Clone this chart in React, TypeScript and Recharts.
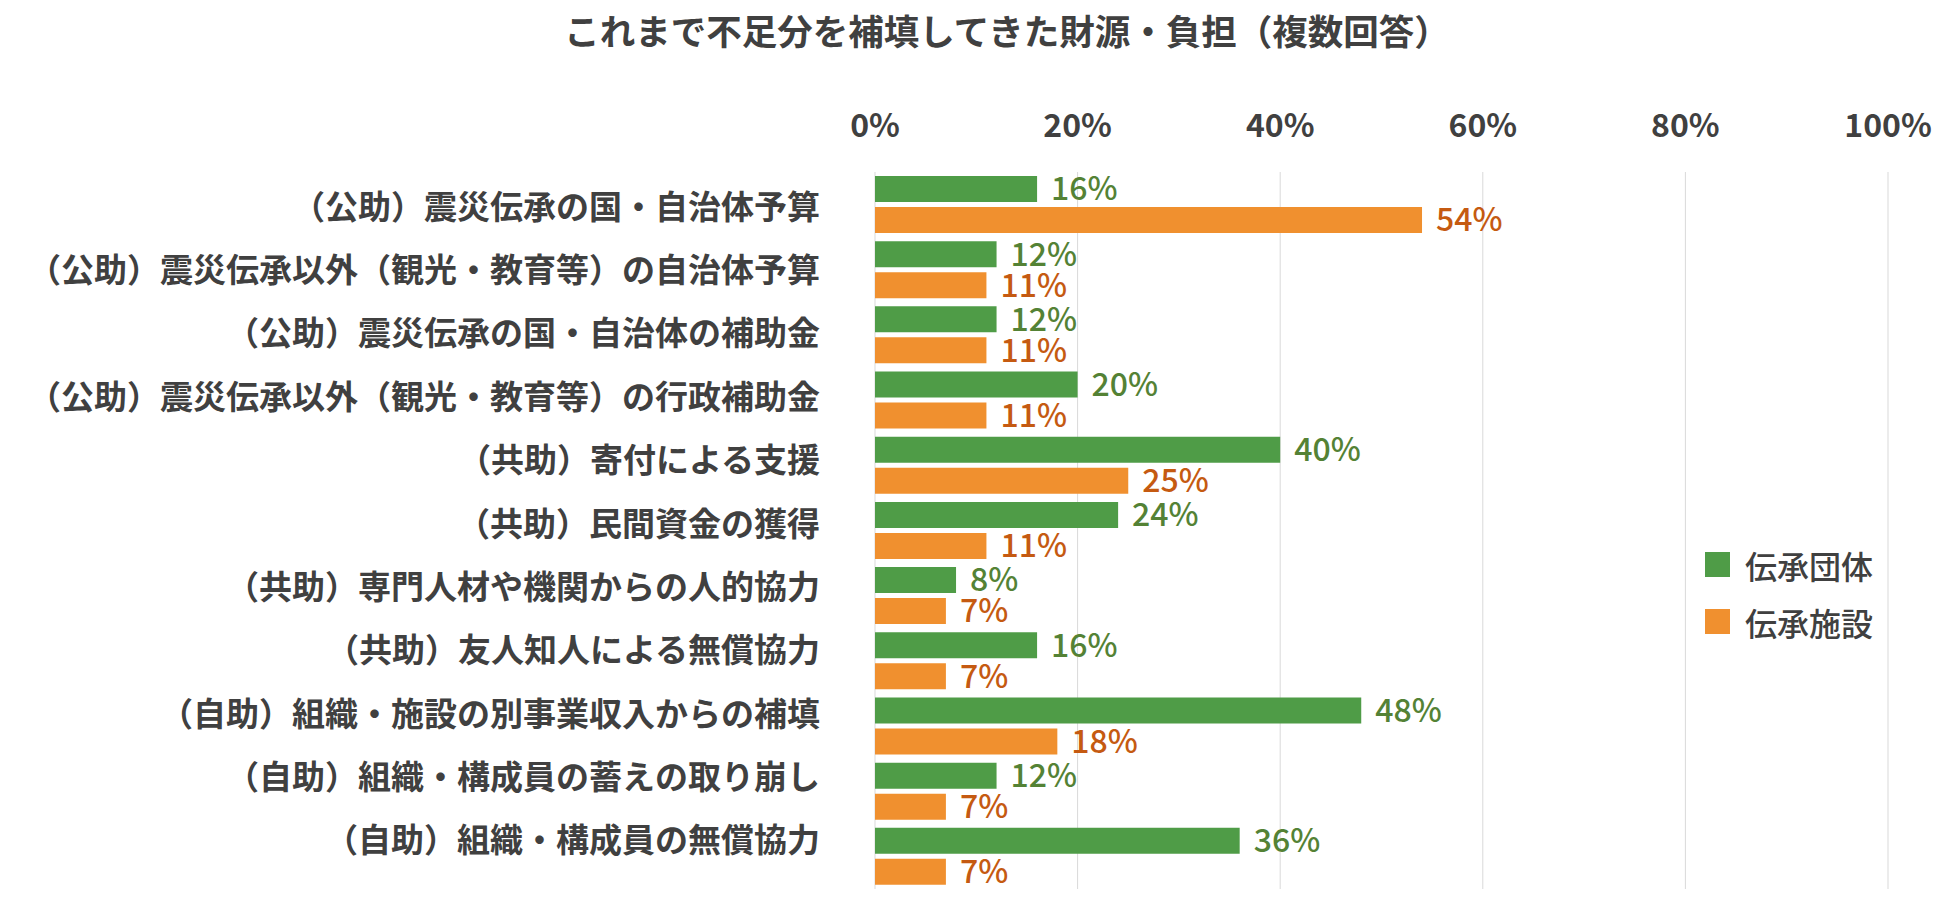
import React from 'react';
import { BarChart, Bar, XAxis, YAxis, CartesianGrid, LabelList } from 'recharts';

const categories = [
  '（公助）震災伝承の国・自治体予算',
  '（公助）震災伝承以外（観光・教育等）の自治体予算',
  '（公助）震災伝承の国・自治体の補助金',
  '（公助）震災伝承以外（観光・教育等）の行政補助金',
  '（共助）寄付による支援',
  '（共助）民間資金の獲得',
  '（共助）専門人材や機関からの人的協力',
  '（共助）友人知人による無償協力',
  '（自助）組織・施設の別事業収入からの補填',
  '（自助）組織・構成員の蓄えの取り崩し',
  '（自助）組織・構成員の無償協力',
];
const groupValues = [16, 12, 12, 20, 40, 24, 8, 16, 48, 12, 36];
const facilityValues = [54, 11, 11, 11, 25, 11, 7, 7, 18, 7, 7];
const xTicks = [0, 20, 40, 60, 80, 100];

const SERIES = [
  { key: 'group', name: '伝承団体', fill: '#4F9C47', label: '#548235' },
  { key: 'facility', name: '伝承施設', fill: '#F0902F', label: '#C55A11' },
];

const data = categories.map((name, i) => ({ name, group: groupValues[i], facility: facilityValues[i] }));

const FONT = '"Noto Sans CJK JP", "Noto Sans", sans-serif';
const TEXT = '#404040';

const XTick = (props: any) => (
  <text x={props.x} y={123} textAnchor="middle" dominantBaseline="central" fill={TEXT} fontSize={32} fontWeight={700} fontFamily={FONT}>
    {props.payload.value}%
  </text>
);

// category labels sit on a slightly tighter pitch than the bars in the original
const YTick = (props: any) => (
  <text x={820} y={props.y - props.index * 1.8} textAnchor="end" dominantBaseline="central" fill={TEXT} fontSize={33} fontWeight={700} fontFamily={FONT}>
    {props.payload.value}
  </text>
);

export default function App() {
  return (
    <div style={{ position: 'absolute', left: 0, top: 0, width: 1950, height: 908, background: '#fff' }}>
      <div style={{ position: 'absolute', left: 0, width: 2014, top: 8, textAlign: 'center', fontFamily: FONT, fontSize: 35.5, fontWeight: 700, color: TEXT, lineHeight: '44px' }}>
        これまで不足分を補填してきた財源・負担（複数回答）
      </div>
      <BarChart width={1950} height={908} data={data} layout="vertical" barSize={26} barGap={5}
        margin={{ top: 142, right: 62, bottom: 19, left: 0 }}>
        <CartesianGrid horizontal={false} stroke="#D9D9D9" />
        <XAxis type="number" orientation="top" height={30} domain={[0, 100]} ticks={xTicks} axisLine={false} tickLine={false} tick={<XTick />} />
        <YAxis type="category" dataKey="name" width={875} axisLine={false} tickLine={false} interval={0} tick={<YTick />} />
        {SERIES.map(s => (
          <Bar key={s.key} dataKey={s.key} name={s.name} fill={s.fill} isAnimationActive={false}>
            <LabelList dataKey={s.key} position="right" offset={14} formatter={(v: any) => `${v}%`}
              style={{ fill: s.label, fontSize: 32, fontWeight: 500, fontFamily: FONT }} />
          </Bar>
        ))}
      </BarChart>
      <div style={{ position: 'absolute', left: 1705, top: 536, fontFamily: FONT }}>
        {SERIES.map(s => (
          <div key={s.key} style={{ display: 'flex', alignItems: 'center', height: 57 }}>
            <div style={{ width: 25, height: 25, background: s.fill, marginRight: 15 }} />
            <span style={{ fontSize: 32, fontWeight: 500, color: TEXT }}>{s.name}</span>
          </div>
        ))}
      </div>
    </div>
  );
}
